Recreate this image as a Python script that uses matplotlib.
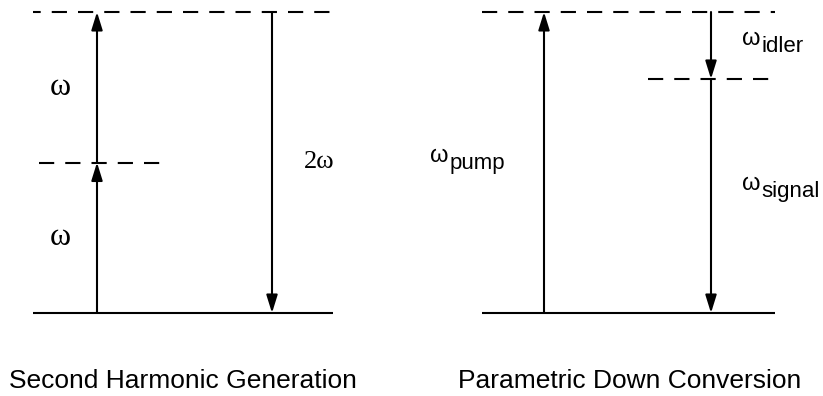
import matplotlib
matplotlib.use("Agg")
import matplotlib.pyplot as plt

# Energy levels (units of omega)
shg_levels = [0, 1, 2]
shg_level_style = ['solid', 'dashed', 'dashed']
shg_up = [(0, 1), (1, 2)]
shg_down = (2, 0)
shg_labels = ['\u03c9', '\u03c9', '2\u03c9']

pdc_levels = [0, 1.555, 2]
pdc_level_style = ['solid', 'dashed', 'dashed']
pdc_up = (0, 2)
pdc_down = [(2, 1.555), (1.555, 0)]

titles = ['Second Harmonic Generation', 'Parametric Down Conversion']

fig = plt.figure(figsize=(8.23, 3.96), dpi=100)
ax = fig.add_axes([0, 0, 1, 1])
ax.set_xlim(0, 823)
ax.set_ylim(-83 / 150.5, 313 / 150.5)
ax.axis('off')

lw = 1.5


def level(x0, x1, e, style, offset=0):
    ls = '-' if style == 'solid' else (offset, (7.3, 5.3))
    ax.plot([x0, x1], [e, e], color='black', lw=lw, linestyle=ls,
            solid_capstyle='butt', dash_capstyle='butt')


def arrow(x, e0, e1):
    ax.annotate('', xy=(x, e1), xytext=(x, e0),
                arrowprops=dict(arrowstyle='-|>,head_length=0.9,head_width=0.28',
                                mutation_scale=12, color='black', lw=lw,
                                shrinkA=0, shrinkB=0))


# --- Second harmonic generation ---
level(33, 333, shg_levels[0], shg_level_style[0])
level(39, 160, shg_levels[1], shg_level_style[1])
level(33, 333, shg_levels[2], shg_level_style[2], offset=-9)
for e0, e1 in shg_up:
    arrow(97, e0, e1)
arrow(272, *shg_down)

serif = dict(family='Liberation Serif', va='center')
ax.text(50, 1.5, shg_labels[1], ha='left', fontsize=23, **serif)
ax.text(50, 0.5, shg_labels[0], ha='left', fontsize=23, **serif)
ax.text(304, 1.0, shg_labels[2], ha='left', fontsize=19, **serif)

# --- Parametric down conversion ---
level(482, 775, pdc_levels[0], pdc_level_style[0])
level(648, 770, pdc_levels[1], pdc_level_style[1])
level(482, 775, pdc_levels[2], pdc_level_style[2])
arrow(544, *pdc_up)
for e0, e1 in pdc_down:
    arrow(711, e0, e1)

sans = dict(family='Liberation Sans', color='black')


def sub_label(x, e, sub):
    ax.text(x, e, '\u03c9', fontsize=17, ha='left', va='baseline', **sans)
    ax.annotate(sub, xy=(x, e), xytext=(14, -5), textcoords='offset points',
                fontsize=16, ha='left', va='baseline', **sans)


sub_label(430, 1.0, 'pump')
sub_label(742, 1.78, 'idler')
sub_label(742, 0.82, 'signal')

ax.text(9, -0.45, titles[0], fontsize=19, ha='left', va='center', **sans)
ax.text(458, -0.45, titles[1], fontsize=19, ha='left', va='center', **sans)

fig.savefig('out.png', dpi=100)
